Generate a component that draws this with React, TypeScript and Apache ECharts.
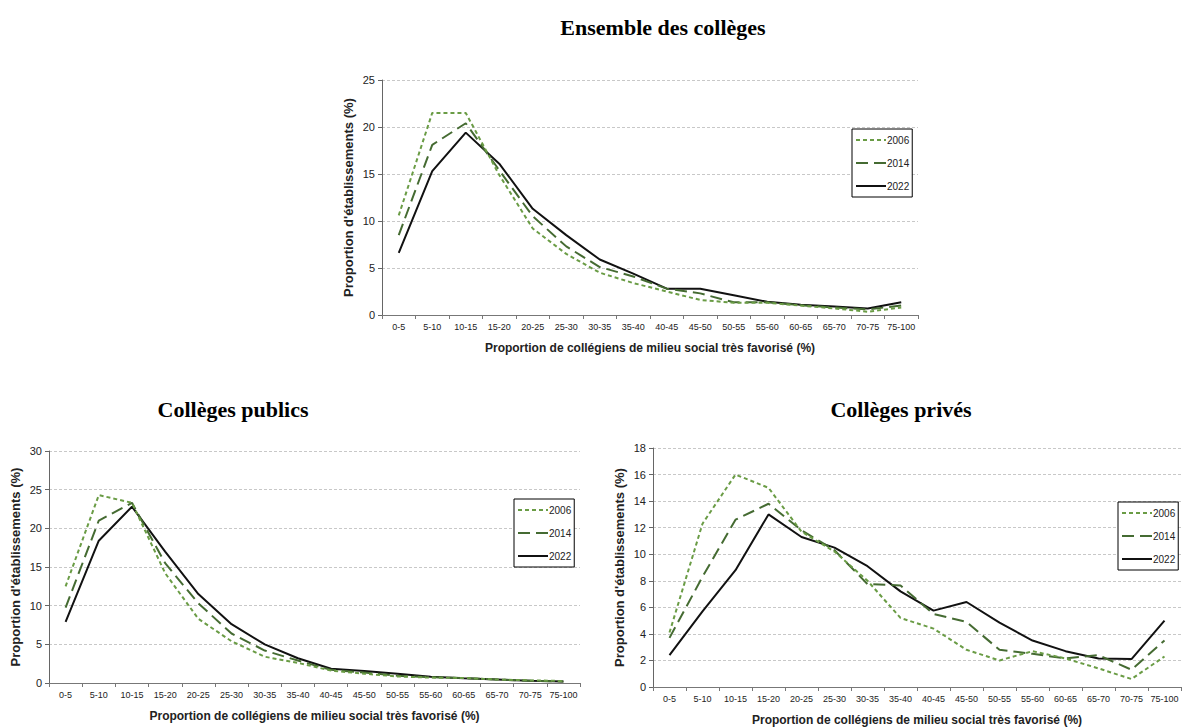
import React, { useEffect, useRef } from "react";
import * as echarts from "echarts";

const categories = ["0-5", "5-10", "10-15", "15-20", "20-25", "25-30", "30-35", "35-40", "40-45", "45-50", "50-55", "55-60", "60-65", "65-70", "70-75", "75-100"];
const years = ["2006", "2014", "2022"];

const ensemble2006 = [10.6, 21.5, 21.5, 14.9, 9.2, 6.5, 4.5, 3.4, 2.5, 1.6, 1.3, 1.3, 1.0, 0.7, 0.35, 0.8];
const ensemble2014 = [8.5, 18.1, 20.4, 15.4, 10.5, 7.3, 5.1, 4.1, 2.8, 2.3, 1.35, 1.35, 1.05, 0.8, 0.6, 1.0];
const ensemble2022 = [6.6, 15.3, 19.4, 16.1, 11.3, 8.5, 5.9, 4.4, 2.8, 2.8, 2.1, 1.4, 1.1, 0.9, 0.7, 1.35];

const public2006 = [12.5, 24.3, 23.3, 14.2, 8.3, 5.4, 3.4, 2.6, 1.6, 1.2, 0.85, 0.7, 0.65, 0.45, 0.35, 0.25];
const public2014 = [9.75, 21.0, 23.3, 15.5, 10.3, 6.4, 4.2, 2.9, 1.7, 1.35, 0.95, 0.75, 0.65, 0.45, 0.3, 0.2];
const public2022 = [7.9, 18.4, 22.8, 17.0, 11.5, 7.6, 5.0, 3.2, 1.85, 1.55, 1.2, 0.8, 0.6, 0.45, 0.3, 0.2];

const prive2006 = [4.1, 12.3, 16.0, 15.0, 11.7, 10.2, 8.0, 5.2, 4.4, 2.8, 2.0, 2.7, 2.15, 1.4, 0.6, 2.3];
const prive2014 = [3.7, 8.3, 12.6, 13.8, 11.8, 10.3, 7.75, 7.65, 5.5, 4.9, 2.8, 2.5, 2.15, 2.4, 1.3, 3.5];
const prive2022 = [2.4, 5.7, 8.8, 13.0, 11.3, 10.5, 9.1, 7.2, 5.75, 6.4, 4.85, 3.5, 2.7, 2.15, 2.1, 5.0];

const titles = ["Ensemble des collèges", "Collèges publics", "Collèges privés"];
const yMax = [25, 30, 18];
const yInterval = [5, 5, 2];
const xName = "Proportion de collégiens de milieu social très favorisé (%)";
const yName = "Proportion d'établissements (%)";

const SANS = "'Liberation Sans', Arial, sans-serif";
const SERIF = "'Liberation Serif', 'Times New Roman', serif";

const styles = [
  { color: "#6a9c45", type: [4, 3] as any },
  { color: "#456b32", type: [12, 6] as any },
  { color: "#111111", type: "solid" as any },
];

export default function App() {
  const ref = useRef<HTMLDivElement>(null);
  useEffect(() => {
    if (!ref.current) return;
    const chart = echarts.init(ref.current, null, { renderer: "svg" });
    const grids = [
      { left: 382, top: 80, width: 536, height: 235 },
      { left: 49, top: 451, width: 531, height: 232 },
      { left: 653, top: 448, width: 528, height: 239 },
    ];
    const titlePos = [
      { x: 658, y: 11 },
      { x: 228, y: 393 },
      { x: 896, y: 393 },
    ];
    const legendPos = [
      { left: 852, top: 129 },
      { left: 514, top: 499 },
      { left: 1118, top: 502 },
    ];
    const dataSets = [
      [ensemble2006, ensemble2014, ensemble2022],
      [public2006, public2014, public2022],
      [prive2006, prive2014, prive2022],
    ];
    const series: any[] = [];
    dataSets.forEach((set, gi) => {
      set.forEach((vals, si) => {
        series.push({
          type: "line",
          name: years[si],
          xAxisIndex: gi,
          yAxisIndex: gi,
          data: vals,
          symbol: "none",
          showSymbol: false,
          lineStyle: { color: styles[si].color, type: styles[si].type, width: 2 },
          itemStyle: { color: styles[si].color },
          z: 3 - si,
        });
      });
    });
    const option: any = {
      animation: false,
      backgroundColor: "#ffffff",
      title: titles.map((t, i) => ({
        text: t,
        left: titlePos[i].x,
        top: titlePos[i].y,
        textAlign: "center",
        textStyle: { fontFamily: SERIF, fontWeight: "bold", fontSize: 22, color: "#000" },
      })),
      grid: grids,
      legend: legendPos.map((p) => ({
        left: p.left,
        top: p.top,
        orient: "vertical",
        data: years,
        align: "left",
        itemWidth: 30,
        itemHeight: 10,
        itemGap: 13,
        padding: [6, 3, 6, 3],
        borderColor: "#000",
        borderWidth: 1,
        backgroundColor: "#fff",
        itemStyle: { opacity: 0 },
        textStyle: { fontFamily: SANS, fontSize: 10, color: "#222", padding: [0, 0, 0, -4] },
      })),
      xAxis: grids.map((_, i) => ({
        type: "category",
        gridIndex: i,
        data: categories,
        boundaryGap: true,
        name: xName,
        nameLocation: "middle",
        nameGap: 27,
        nameTextStyle: { fontFamily: SANS, fontWeight: "bold", fontSize: 12, color: "#222" },
        axisLine: { lineStyle: { color: "#777", width: 1 } },
        axisTick: { show: true, alignWithLabel: false, length: 4, lineStyle: { color: "#777" } },
        axisLabel: { interval: 0, fontFamily: SANS, fontSize: 9, color: "#222", margin: 7 },
        splitLine: { show: false },
      })),
      yAxis: grids.map((_, i) => ({
        type: "value",
        gridIndex: i,
        min: 0,
        max: yMax[i],
        interval: yInterval[i],
        name: yName,
        nameLocation: "middle",
        nameGap: 27,
        nameTextStyle: { fontFamily: SANS, fontWeight: "bold", fontSize: 13, color: "#222" },
        axisLine: { show: true, lineStyle: { color: "#666", width: 1 } },
        axisTick: { show: true, length: 4, lineStyle: { color: "#666" } },
        axisLabel: { fontFamily: SANS, fontSize: 11, color: "#222", margin: 7 },
        splitLine: { show: true, lineStyle: { color: "#c8c8c8", type: [3, 2], width: 1 } },
      })),
      series,
    };
    chart.setOption(option);
    return () => chart.dispose();
  }, []);
  return (
    <div
      ref={ref}
      style={{ position: "fixed", left: 0, top: 0, width: 1184, height: 727, background: "#fff" }}
    />
  );
}
